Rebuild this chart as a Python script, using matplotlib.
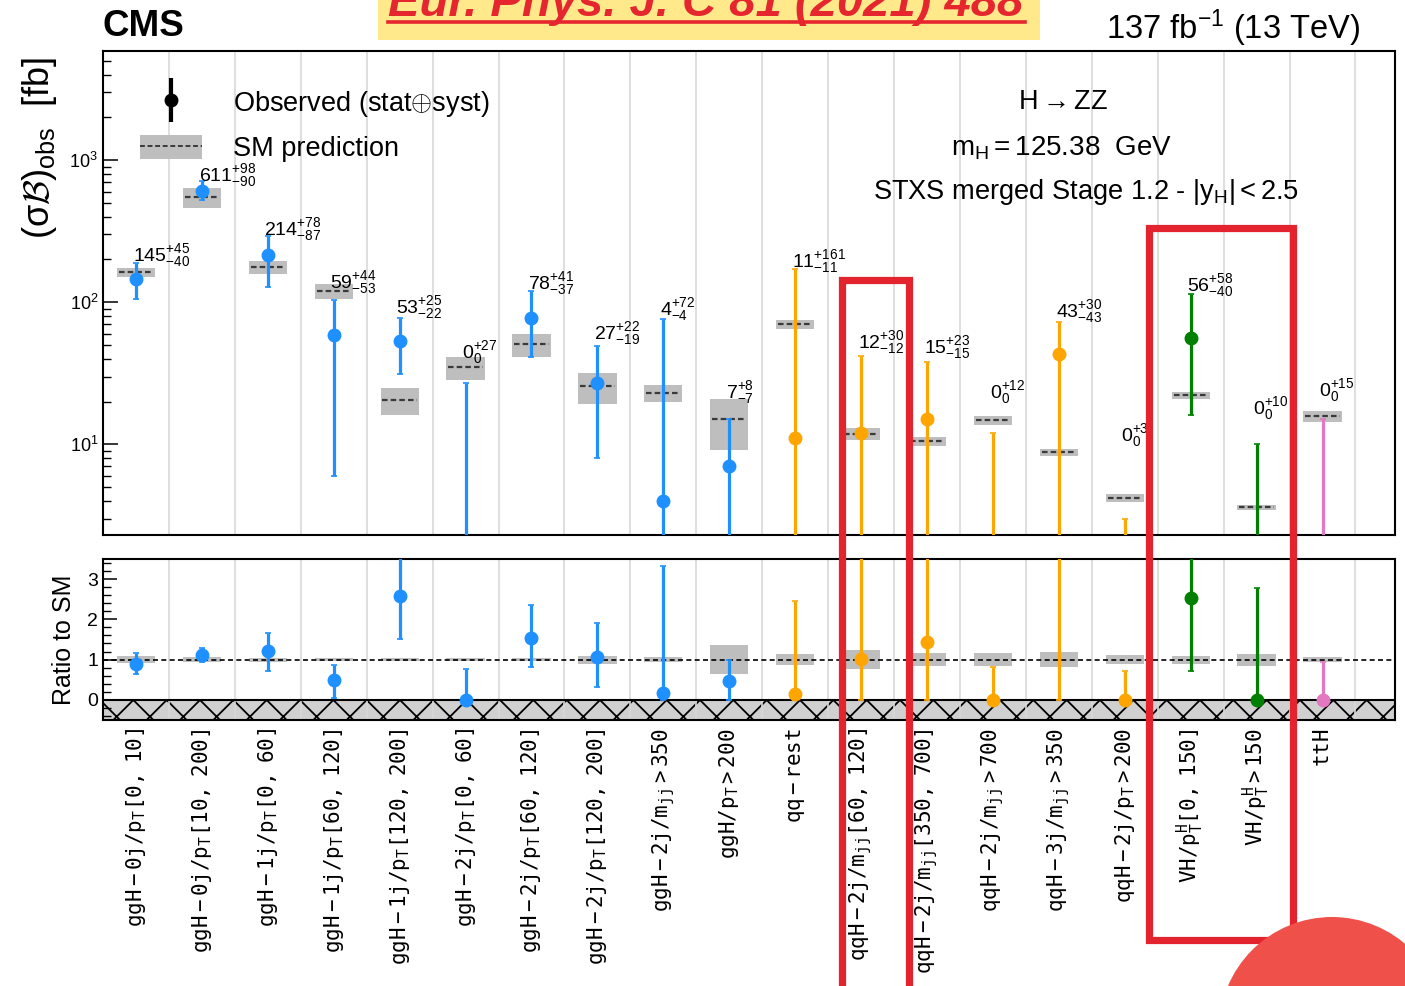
import numpy as np
import matplotlib.pyplot as plt
from matplotlib.patches import Patch, Rectangle, Ellipse
from matplotlib.lines import Line2D
from matplotlib.collections import LineCollection
from matplotlib.container import ErrorbarContainer
from matplotlib.legend_handler import HandlerTuple, HandlerErrorbar
from matplotlib.ticker import MultipleLocator, LogLocator, NullFormatter

plt.rcParams['font.family'] = ['Liberation Sans', 'DejaVu Sans']
plt.rcParams['mathtext.fontset'] = 'custom'
plt.rcParams['mathtext.rm'] = 'Liberation Sans'
plt.rcParams['mathtext.it'] = 'Liberation Sans:italic'
plt.rcParams['mathtext.bf'] = 'Liberation Sans:bold'
plt.rcParams['mathtext.tt'] = 'DejaVu Sans Mono'
plt.rcParams['mathtext.cal'] = 'cmsy10'
plt.rcParams['hatch.linewidth'] = 1.3

# STXS bins, H -> ZZ, 137 fb-1
categories = [
    r'ggH-0j/p_T[0,\ 10]', r'ggH-0j/p_T[10,\ 200]', r'ggH-1j/p_T[0,\ 60]',
    r'ggH-1j/p_T[60,\ 120]', r'ggH-1j/p_T[120,\ 200]', r'ggH-2j/p_T[0,\ 60]',
    r'ggH-2j/p_T[60,\ 120]', r'ggH-2j/p_T[120,\ 200]', r'ggH-2j/m_{jj}>350',
    r'ggH/p_T>200', r'qq-rest', r'qqH-2j/m_{jj}[60,\ 120]',
    r'qqH-2j/m_{jj}[350,\ 700]', r'qqH-2j/m_{jj}>700', r'qqH-3j/m_{jj}>350',
    r'qqH-2j/p_T>200', r'VH/p_T^H[0,\ 150]', r'VH/p_T^H>150', r'ttH',
]
modes = ['ggH'] * 10 + ['qqH'] * 6 + ['VH'] * 2 + ['ttH']

obs = np.array([145, 611, 214, 59, 53, 0, 78, 27, 4, 7, 11, 12, 15, 0, 43, 0, 56, 0, 0], float)
err_up = np.array([45, 98, 78, 44, 25, 27, 41, 22, 72, 8, 161, 30, 23, 12, 30, 3, 58, 10, 15], float)
err_dn = np.array([40, 90, 87, 53, 22, 0, 37, 19, 4, 7, 11, 12, 15, 0, 43, 0, 40, 0, 0], float)

sm = np.array([162, 549, 177, 120, 20.5, 34.8, 50.6, 25.6, 22.9, 15.0,
               70, 11.9, 10.5, 14.8, 8.8, 4.2, 22.1, 3.6, 15.8])
sm_unc = np.array([0.075, 0.16, 0.11, 0.12, 0.21, 0.19, 0.19, 0.25, 0.14, 0.39,
                   0.07, 0.10, 0.07, 0.075, 0.06, 0.06, 0.055, 0.04, 0.09])
ratio_unc = np.array([0.08, 0.06, 0.05, 0.04, 0.03, 0.04, 0.04, 0.10, 0.06, 0.37,
                      0.13, 0.23, 0.16, 0.16, 0.18, 0.11, 0.10, 0.15, 0.06])

colors = {'ggH': '#1E90FF', 'qqH': '#FFA500', 'VH': '#008000', 'ttH': '#E377C2'}
box_color = '#BEBEBE'

x = np.arange(len(categories))

fig = plt.figure(figsize=(14.05, 9.86), dpi=100)
ax = fig.add_axes([0.0733, 0.4574, 0.9196, 0.4909])
ax2 = fig.add_axes([0.0733, 0.2698, 0.9196, 0.1633])

# ---- upper panel: cross sections ----
ax.set_yscale('log')
ax.bar(x, 2 * sm_unc * sm, bottom=sm * (1 - sm_unc), width=0.58, color=box_color, zorder=2)
ax.hlines(sm, x - 0.26, x + 0.26, colors='#3a3a3a', linestyles=(0, (2.5, 1.4)), lw=1.6, zorder=3)

y_mid = np.where(obs > 0, obs, 1e-3)
y_lo = np.maximum(obs - err_dn, 1e-3)
y_hi = obs + err_up
for i in x:
    c = colors[modes[i]]
    ax.errorbar(x[i], y_mid[i], yerr=[[y_mid[i] - y_lo[i]], [y_hi[i] - y_mid[i]]],
                fmt='o', color=c, ms=9, elinewidth=2.3, capsize=2.5, capthick=1.2, zorder=5)
    top = max(y_hi[i], sm[i])
    lo_txt = '0' if obs[i] == 0 else '-%d' % err_dn[i]
    ax.text(x[i] - 0.05, 1.08 * top + 7, r'$%d^{+%d}_{%s}$' % (obs[i], err_up[i], lo_txt),
            fontsize=14, ha='left', va='center', zorder=6)

ax.set_xlim(-0.5, 19.1)
ax.set_ylim(2.3, 5860)
ax.set_xticks(x)
ax.set_xticks(x + 0.5, minor=True)
ax.tick_params(axis='x', which='both', length=0, labelbottom=False)
ax.grid(which='minor', axis='x', color='#D8D8D8', lw=1.2)
ax.yaxis.set_major_locator(LogLocator(base=10, numticks=10))
ax.yaxis.set_minor_locator(LogLocator(base=10, subs=np.arange(2, 10), numticks=20))
ax.yaxis.set_minor_formatter(NullFormatter())
ax.tick_params(axis='y', which='major', direction='in', length=11, width=1.1, labelsize=13)
ax.tick_params(axis='y', which='minor', direction='in', length=6, width=1.0)
for s in ax.spines.values():
    s.set_linewidth(1.5)
ax.set_ylabel(r'(σ$\mathcal{B}$)$_\mathrm{obs}$  [fb]', fontsize=26)
ax.yaxis.set_label_coords(-0.034, 0.80)

ax.text(0.743, 0.895, r'$\mathrm{H}\rightarrow\mathrm{ZZ}$', transform=ax.transAxes,
        fontsize=19.5, ha='center', va='center')
ax.text(0.742, 0.80, r'$\mathrm{m_H = 125.38\ \ GeV}$', transform=ax.transAxes,
        fontsize=20, ha='center', va='center')
ax.text(0.761, 0.709, r'STXS merged Stage 1.2 - $|\mathrm{y_H}| < 2.5$', transform=ax.transAxes,
        fontsize=19.6, ha='center', va='center')

# legend
obs_line = Line2D([], [], marker='o', color='k', ms=9, ls='none')
obs_bar = LineCollection([], colors='k', linewidths=3)
obs_handle = ErrorbarContainer((obs_line, (), (obs_bar,)), has_xerr=False, has_yerr=True)
sm_handle = (Patch(facecolor=box_color, edgecolor='none'),
             Line2D([], [], color='#3a3a3a', ls=(0, (2.5, 1.4)), lw=1.4))
ax.legend([obs_handle, sm_handle], [r'Observed (stat$\oplus$syst)', 'SM prediction'],
          handler_map={tuple: HandlerTuple(ndivide=1, pad=0),
                       ErrorbarContainer: HandlerErrorbar(yerr_size=0.8)},
          loc='upper left', bbox_to_anchor=(0.0286, 0.922), borderaxespad=0, borderpad=0,
          frameon=False, fontsize=19.5, handlelength=2.3, handleheight=1.0,
          handletextpad=1.15, labelspacing=0.6)

# ---- lower panel: ratio to SM ----
ratio = obs / sm
ax2.axhspan(-0.5, 0, facecolor='#D0D0D0', edgecolor='k', hatch='x', lw=0, zorder=1)
ax2.bar(x, 2 * ratio_unc, bottom=1 - ratio_unc, width=0.58, color=box_color, zorder=2)
ax2.axhline(1, color='k', ls=(0, (3, 2)), lw=1.2, zorder=3)
ax2.axhline(0, color='k', lw=1.5, zorder=3)
for i in x:
    c = colors[modes[i]]
    ax2.errorbar(x[i], ratio[i], yerr=[[err_dn[i] / sm[i]], [err_up[i] / sm[i]]],
                 fmt='o', color=c, ms=9, elinewidth=2.3, capsize=2.5, capthick=1.2, zorder=5)

ax2.set_xlim(-0.5, 19.1)
ax2.set_ylim(-0.5, 3.5)
ax2.set_xticks(x)
ax2.set_xticks(x + 0.5, minor=True)
ax2.set_xticklabels([r'$\mathtt{%s}$' % c for c in categories], rotation=90, fontsize=15)
ax2.tick_params(axis='x', which='both', length=0, pad=6)
ax2.grid(which='minor', axis='x', color='#D8D8D8', lw=1.2)
ax2.set_yticks([0, 1, 2, 3])
ax2.yaxis.set_minor_locator(MultipleLocator(0.2))
ax2.tick_params(axis='y', which='major', direction='in', length=10, width=1.1, labelsize=14)
ax2.tick_params(axis='y', which='minor', direction='in', length=6, width=1.0)
for s in ax2.spines.values():
    s.set_linewidth(1.5)
ax2.set_ylabel('Ratio to SM', fontsize=18)
ax2.yaxis.set_label_coords(-0.021, 0.5)

# ---- header ----
fig.text(103 / 1405, 1 - 27 / 986, 'CMS', fontsize=26.5, fontweight='bold', ha='left', va='center')
fig.text(1360 / 1405, 1 - 28 / 986, r'137 fb$^{-1}$ (13 TeV)', fontsize=23.5, ha='right', va='center')

fig.add_artist(Rectangle((378 / 1405, 1 - 40 / 986), 662 / 1405, 40 / 986,
                         transform=fig.transFigure, facecolor='#FFE98A', edgecolor='none', zorder=8))
fig.text(388 / 1405, 1 - 16 / 986, 'Eur. Phys. J. C 81 (2021) 488', fontsize=34,
         fontweight='bold', fontstyle='italic', color='#E5262F', ha='left', va='baseline', zorder=9)
fig.add_artist(Line2D([388 / 1405, 1025 / 1405], [1 - 22 / 986, 1 - 22 / 986],
                      transform=fig.transFigure, color='#E5262F', lw=2.6, zorder=9))

# highlight frames
red = '#E3242F'
fig.add_artist(Rectangle((842 / 1405, -20 / 986), 67 / 1405, (986 - 280 + 20) / 986,
                         transform=fig.transFigure, fill=False, edgecolor=red, lw=5.2, zorder=10))
fig.add_artist(Rectangle((1149 / 1405, (986 - 940) / 986), 144 / 1405, (940 - 228) / 986,
                         transform=fig.transFigure, fill=False, edgecolor=red, lw=5.2, zorder=10))
fig.add_artist(Ellipse((1332 / 1405, (986 - 1030) / 986), 226 / 1405, 226 / 986,
                       transform=fig.transFigure, facecolor='#EF5049', edgecolor='none', zorder=11))

fig.savefig('out.png', dpi=100)
